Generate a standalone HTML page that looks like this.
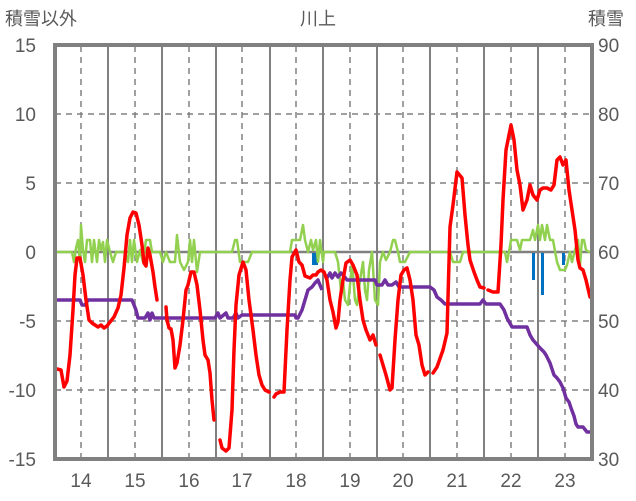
<!DOCTYPE html>
<html><head><meta charset="utf-8"><style>
html,body{margin:0;padding:0;background:#fff;}
svg{display:block;font-family:"Liberation Sans","Noto Sans CJK JP",sans-serif;}
</style></head><body>
<svg width="636" height="501" viewBox="0 0 636 501">
<rect width="636" height="501" fill="#fff"/>
<g fill="#595959" font-size="19">
<text x="5" y="25" font-size="18">積雪以外</text>
<text x="318" y="25" font-size="18" text-anchor="middle">川上</text>
<text x="588" y="25" font-size="18">積雪</text>
<g text-anchor="end">
<text x="36" y="52">15</text><text x="36" y="121">10</text><text x="36" y="190">5</text>
<text x="36" y="259">0</text><text x="36" y="328">-5</text><text x="36" y="397">-10</text><text x="36" y="466">-15</text>
</g>
<g>
<text x="598" y="52">90</text><text x="598" y="121">80</text><text x="598" y="190">70</text>
<text x="598" y="259">60</text><text x="598" y="328">50</text><text x="598" y="397">40</text><text x="598" y="466">30</text>
</g>
<g text-anchor="middle">
<text x="81" y="487">14</text><text x="135" y="487">15</text><text x="189" y="487">16</text><text x="242" y="487">17</text><text x="296" y="487">18</text>
<text x="350" y="487">19</text><text x="403" y="487">20</text><text x="457" y="487">21</text><text x="511" y="487">22</text><text x="565" y="487">23</text>
</g>
</g>
<g stroke="#808080" stroke-width="1.5" stroke-dasharray="6,5" fill="none">
<path d="M55 114H592M55 183H592M55 321H592M55 390H592"/>
<path d="M81 46V458M135 46V458M189 46V458M242 46V458M296 46V458M350 46V458M403 46V458M457 46V458M511 46V458M565 46V458"/>
</g>
<g stroke="#808080" stroke-width="2" fill="none">
<path d="M108 46V458M162 46V458M216 46V458M270 46V458M323 46V458M377 46V458M430 46V458M484 46V458M538 46V458"/>
<path d="M55 252H592" stroke-width="2.5"/>
</g>
<g fill="#0070c0">
<rect x="312" y="253" width="6" height="12"/>
<rect x="532" y="253" width="3" height="27"/>
<rect x="541" y="253" width="3" height="42"/>
<rect x="562" y="253" width="3" height="12"/>
</g>
<polyline fill="none" stroke="#92d050" stroke-width="2.5" stroke-linejoin="round" points="55,252 72,252 74,262 76,248 78,240 80,262 81,225 83,250 85,262 87,240 90,240 92,262 94,240 97,262 99,240 101,250 103,242 105,262 107,240 110,252 113,262 116,252 125,252 128,262 130,240 132,262 134,240 137,262 140,250 143,262 146,240 150,240 152,252 160,252 163,262 166,252 170,262 175,262 177,235 180,262 184,270 188,262 190,240 192,262 194,240 197,272 200,252 232,252 235,240 237,240 240,262 248,262 252,252 290,252 292,240 300,240 303,225 305,240 308,252 311,240 313,250 316,240 318,262 320,240 323,262 324,252 335,252 338,262 341,290 343,280 345,300 348,305 350,285 352,262 355,300 357,305 360,280 363,262 365,290 367,300 369,270 372,252 375,300 378,305 380,262 383,252 386,260 390,252 393,240 395,240 398,252 400,262 405,262 410,252 450,252 453,262 460,262 463,252 505,252 507,262 509,252 511,240 517,240 520,250 522,240 530,240 533,230 535,240 538,225 540,240 542,225 545,240 547,225 550,240 553,240 557,262 560,270 565,270 567,265 570,252 572,262 575,250 578,240 580,265 582,240 584,240 586,250 589,252 593,252"/>
<polyline fill="none" stroke="#7030a0" stroke-width="3.5" stroke-linejoin="round" points="57,300 80,300 82,305 85,305 88,300 132,300 136,310 138,318 145,318 148,313 150,320 152,313 154,318 215,318 218,313 220,318 226,313 228,318 233,318 236,313 238,318 242,315 295,315 296,318 298,318 302,310 305,300 308,290 312,287 315,283 318,280 320,285 322,290"/>
<polyline fill="none" stroke="#7030a0" stroke-width="3.5" stroke-linejoin="round" points="327,278 330,273 332,278 335,273 338,277 341,273 344,276 347,280 375,280 377,285 382,285 385,280 388,285 392,285 396,282 399,287 430,287 434,290 437,297 441,300 445,304 480,304 483,300 486,304 500,304 504,310 507,318 512,327 527,327 530,335 533,340 540,348 544,352 546,355 550,363 554,375 557,378 560,382 563,388 566,398 569,402 571,408 574,416 576,424 578,427 583,427 587,432 593,432"/>
<g fill="none" stroke="#ff0000" stroke-width="3.5" stroke-linejoin="round" stroke-linecap="round">
<polyline points="57,369 61,370 64,387 67,381 70,355 73,310 75,275 77,258 80,258 83,275 86,300 89,320 92,323 95,325 98,327 101,325 104,328 107,326 110,322 114,317 118,308 121,295 124,268 127,235 130,218 133,212 136,213 139,225 142,245 144,263 146,266 148,248 150,255 153,272 155,287 157,300"/>
<polyline points="166,307 167,320 169,328 171,329 173,340 175,368 177,363 180,345 183,320 186,290 188,285 191,272 194,272 197,285 200,310 203,340 205,355 208,360 210,373 212,400 214,420"/>
<polyline points="220,440 222,448 226,451 229,448 232,410 234,350 236,305 239,275 243,262 246,270 249,300 253,330 256,355 259,375 262,385 265,390 269,392"/>
<polyline points="274,397 276,394 280,392 284,392 287,330 290,280 292,257 296,250 299,262 302,265 305,276 310,278 313,275 316,275 318,272 321,270 324,272 327,280 330,300 333,312 336,328 338,322 340,300 343,280 346,263 350,260 353,265 357,275 360,300 363,320 366,330 370,340 373,335 376,345"/>
<polyline points="380,355 383,365 386,375 390,390 392,388 395,340 398,300 401,275 404,270 407,268 410,280 413,300 416,335 419,345 422,365 425,375 428,372"/>
<polyline points="433,373 437,367 443,350 447,333 450,227 453,205 457,172 462,178 465,215 468,245 470,260 474,272 477,280 480,287 484,288"/>
<polyline points="488,290 493,292 498,292 501,245 503,200 506,150 511,125 514,140 517,170 520,185 523,210 527,200 530,185 533,195 537,200 540,190 543,188 547,188 551,190 554,185 557,160 560,157 563,165 566,160 569,190 572,210 575,230 578,260 580,268 583,270 586,280 590,297"/>
</g>
<rect x="55" y="45" width="537" height="414" fill="none" stroke="#808080" stroke-width="4"/>
</svg>
</body></html>
